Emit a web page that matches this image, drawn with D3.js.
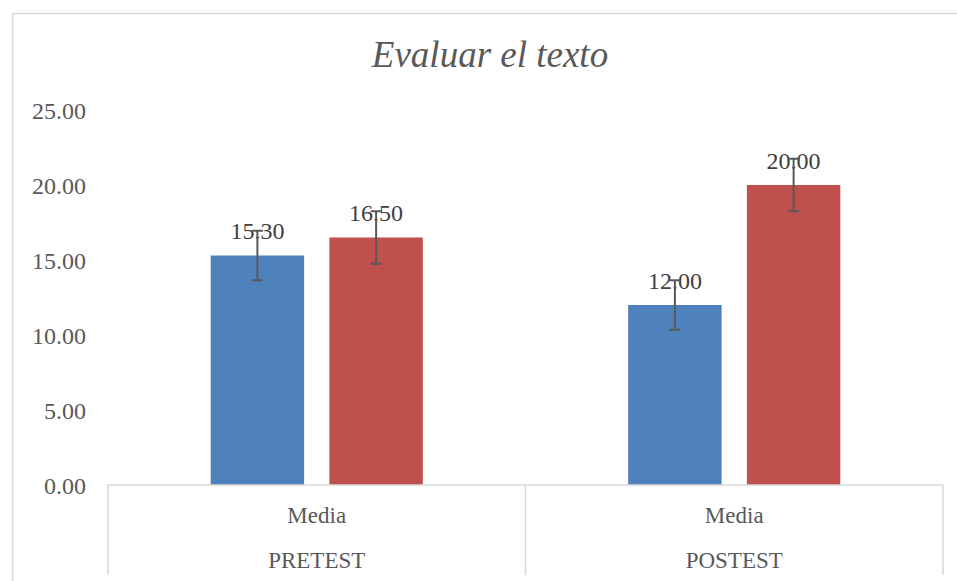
<!DOCTYPE html>
<html>
<head>
<meta charset="utf-8">
<script src="https://cdn.jsdelivr.net/npm/d3@7"></script>
<style>
  html, body { margin: 0; padding: 0; background: #fff; }
  svg { display: block; font-family: "Liberation Serif", "Times New Roman", serif; }
</style>
</head>
<body>
<div id="chart"></div>
<script>
// Data
const groups = ['PRETEST', 'POSTEST'];
const subLabels = ['Media', 'Media'];
const seriesNames = ['Serie1', 'Serie2'];
const seriesValues = [
  [15.30, 12.00],   // blue
  [16.50, 20.00]    // red
];
const seriesErrors = [1.65, 1.75];
const seriesColors = ['#4F81BD', '#C0504D'];
const yTicks = [0, 5, 10, 15, 20, 25];

const width = 957;
const height = 581;

const svg = d3.select('#chart').append('svg')
  .attr('width', width)
  .attr('height', height);

// chart frame (right and bottom sides fall outside the picture)
svg.append('path')
  .attr('d', `M12.5,${height} V13.5 H${width}`)
  .attr('fill', 'none')
  .attr('stroke', '#d9d9d9')
  .attr('stroke-width', 1.5);

// Title
svg.append('text')
  .attr('x', 490)
  .attr('y', 67)
  .attr('text-anchor', 'middle')
  .style('font-size', '37px')
  .style('font-style', 'italic')
  .style('fill', '#595959')
  .text('Evaluar el texto');

const plotLeft = 108, plotRight = 943;
const y = d3.scaleLinear().domain([0, 25]).range([485, 110]);
const x = d3.scaleBand().domain(groups).range([plotLeft, plotRight]);
const xs = d3.scaleBand().domain(seriesNames).range([0, x.bandwidth()])
  .paddingInner(0.213).paddingOuter(0.865);

// Y axis labels only
const yAxis = d3.axisLeft(y).tickValues(yTicks).tickFormat(d3.format('.2f')).tickSize(0).tickPadding(0);
const yg = svg.append('g').attr('transform', 'translate(86,0)').call(yAxis);
yg.select('.domain').remove();
yg.selectAll('text')
  .style('font-size', '24px')
  .style('font-family', '"Liberation Serif", serif')
  .style('fill', '#595959')
  .attr('dy', '0.34em');

// Bars
const bars = [];
seriesNames.forEach((s, si) => {
  groups.forEach((gname, gi) => {
    bars.push({ series: s, group: gname, value: seriesValues[si][gi], err: seriesErrors[si], color: seriesColors[si] });
  });
});

const barG = svg.append('g');
barG.selectAll('rect').data(bars).join('rect')
  .attr('x', d => x(d.group) + xs(d.series))
  .attr('y', d => y(d.value))
  .attr('width', xs.bandwidth())
  .attr('height', d => y(0) - y(d.value))
  .attr('fill', d => d.color);

// Category axis box
const axisG = svg.append('g')
  .attr('stroke', '#d9d9d9')
  .attr('stroke-width', 1.5)
  .attr('fill', 'none');
axisG.append('line')
  .attr('x1', plotLeft).attr('x2', plotRight)
  .attr('y1', y(0)).attr('y2', y(0));
[plotLeft, x('POSTEST'), plotRight].forEach(xv => {
  axisG.append('line')
    .attr('x1', xv).attr('x2', xv)
    .attr('y1', y(0)).attr('y2', 575);
});

groups.forEach((gname, gi) => {
  const cx = x(gname) + x.bandwidth() / 2;
  svg.append('text')
    .attr('x', cx).attr('y', 523)
    .attr('text-anchor', 'middle')
    .style('font-size', '23px')
    .style('fill', '#595959')
    .text(subLabels[gi]);
  svg.append('text')
    .attr('x', cx).attr('y', 568)
    .attr('text-anchor', 'middle')
    .style('font-size', '23px')
    .style('fill', '#595959')
    .text(gname);
});

// Data labels
svg.append('g').selectAll('text').data(bars).join('text')
  .attr('x', d => x(d.group) + xs(d.series) + xs.bandwidth() / 2)
  .attr('y', d => y(d.value) - 16.5)
  .attr('text-anchor', 'middle')
  .style('font-size', '24px')
  .style('fill', '#404040')
  .text(d => d3.format('.2f')(d.value));

// Error bars
const errG = svg.append('g')
  .attr('stroke', '#595959')
  .attr('stroke-width', 2)
  .attr('fill', 'none');
bars.forEach(d => {
  const cx = x(d.group) + xs(d.series) + xs.bandwidth() / 2;
  const y1 = y(d.value + d.err), y2 = y(d.value - d.err);
  errG.append('line').attr('x1', cx).attr('x2', cx).attr('y1', y1).attr('y2', y2);
  errG.append('line').attr('x1', cx - 5.5).attr('x2', cx + 5.5).attr('y1', y1).attr('y2', y1);
  errG.append('line').attr('x1', cx - 5.5).attr('x2', cx + 5.5).attr('y1', y2).attr('y2', y2);
});
</script>
</body>
</html>
